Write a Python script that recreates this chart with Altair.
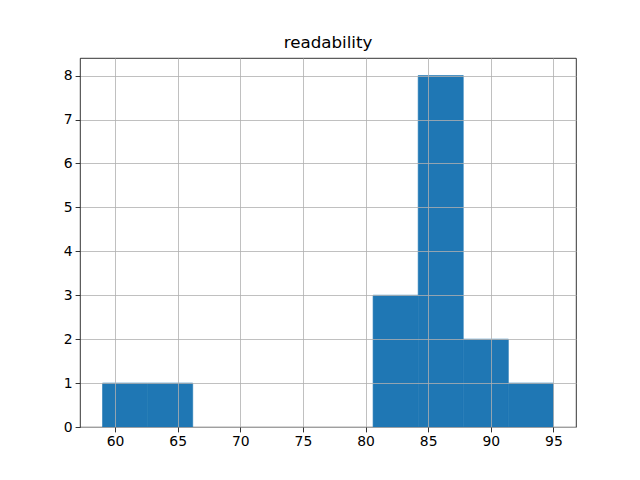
import altair as alt
import pandas as pd

bin_start = [59.0, 62.6, 66.2, 69.8, 73.4, 77.0, 80.6, 84.2, 87.8, 91.4]
bin_end = [62.6, 66.2, 69.8, 73.4, 77.0, 80.6, 84.2, 87.8, 91.4, 95.0]
counts = [1, 1, 0, 0, 0, 0, 3, 8, 2, 1]
x_ticks = [60, 65, 70, 75, 80, 85, 90, 95]
y_ticks = [0, 1, 2, 3, 4, 5, 6, 7, 8]

df = pd.DataFrame({"start": bin_start, "end": bin_end, "count": counts})

axis_common = dict(
    grid=True, gridColor="#b0b0b0", gridWidth=0.8, zindex=1,
    domain=False, tickColor="black", tickSize=4.9, tickWidth=0.8,
    labelColor="black", labelFontSize=13.9, labelFont="DejaVu Sans",
    labelPadding=3, title=None,
)

chart = alt.Chart(df).mark_rect(color="#1f77b4", stroke="#1f77b4").encode(
    x=alt.X("start:Q", scale=alt.Scale(domain=[57.2, 96.8], nice=False, zero=False),
            axis=alt.Axis(values=x_ticks, **axis_common)),
    x2="end:Q",
    y=alt.Y("count:Q", scale=alt.Scale(domain=[0, 8.4], nice=False),
            axis=alt.Axis(values=y_ticks, **axis_common)),
    y2=alt.datum(0),
    strokeWidth=alt.condition(alt.datum.count > 0, alt.value(0.6), alt.value(0)),
).properties(
    width=496, height=369,
    title=alt.TitleParams("readability", font="DejaVu Sans", fontSize=16.7,
                          fontWeight="normal", color="black", offset=6),
    autosize=alt.AutoSizeParams(type="none"),
    padding={"left": 72, "top": 50, "right": 48, "bottom": 45},
).configure_view(stroke="black", strokeWidth=0.8)

chart.save("out.html", embed_options={"renderer": "svg", "actions": False})
